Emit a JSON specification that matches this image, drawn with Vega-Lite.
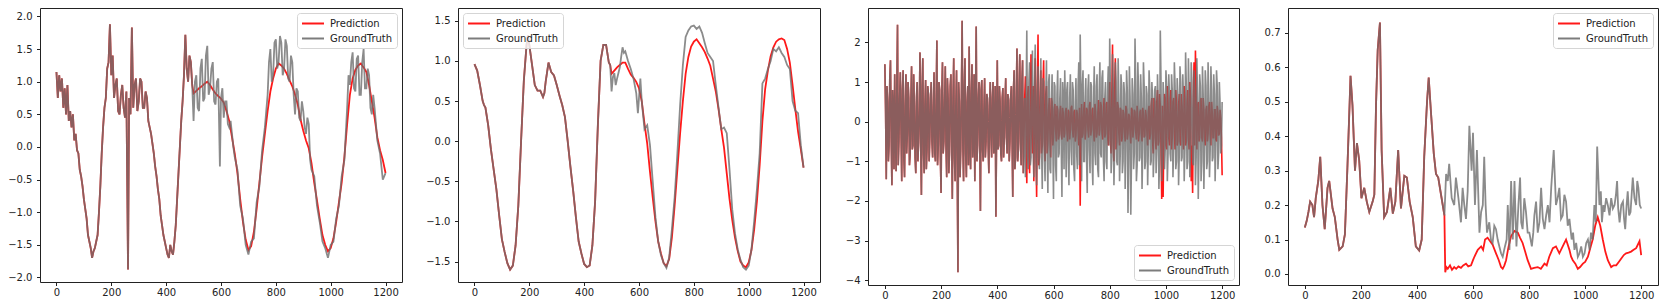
{
"$schema": "https://vega.github.io/schema/vega-lite/v6.json",
"padding": {"left": 0, "top": 7, "right": 0, "bottom": 0},
"spacing": 0,
"config": {
  "font": "DejaVu Sans",
  "view": {"stroke": "#222", "strokeWidth": 1},
  "axis": {"grid": false, "domain": false, "labelFont": "DejaVu Sans", "labelFontSize": 10, "labelColor": "#222", "tickColor": "#222", "tickSize": 3.5, "title": null, "labelFlush": false},
  "axisX": {"labelPadding": 2, "format": "d"},
  "axisY": {"labelPadding": 4.5},
  "legend": {"labelFont": "DejaVu Sans", "labelFontSize": 10, "labelColor": "#222", "symbolType": "M-1,0L3,0", "symbolSize": 121, "symbolStrokeWidth": 2, "symbolOpacity": 0.9, "labelOffset": 16, "rowPadding": 3, "padding": 4, "fillColor": "rgba(255,255,255,0.8)", "strokeColor": "#d5d5d5", "cornerRadius": 3, "offset": 5}
},
"resolve": {"scale": {"color": "independent", "x": "independent", "y": "independent"}, "legend": {"color": "independent"}},
"datasets": {"d": [
{"p":1,"s":"H","x":0,"y":1.15},{"p":1,"s":"H","x":5,"y":0.75},{"p":1,"s":"H","x":10,"y":1.1},{"p":1,"s":"H","x":15,"y":0.85},{"p":1,"s":"H","x":20,"y":1.05},{"p":1,"s":"H","x":25,"y":0.6},{"p":1,"s":"H","x":30,"y":0.9},{"p":1,"s":"H","x":35,"y":0.5},{"p":1,"s":"H","x":40,"y":0.95},{"p":1,"s":"H","x":45,"y":0.4},{"p":1,"s":"H","x":50,"y":0.55},{"p":1,"s":"H","x":55,"y":0.3},{"p":1,"s":"H","x":60,"y":0.5},{"p":1,"s":"H","x":65,"y":0.1},{"p":1,"s":"H","x":70,"y":0.2},{"p":1,"s":"H","x":75,"y":-0.05},{"p":1,"s":"H","x":80,"y":-0.1},{"p":1,"s":"H","x":85,"y":-0.35},{"p":1,"s":"H","x":90,"y":-0.45},{"p":1,"s":"H","x":95,"y":-0.6},{"p":1,"s":"H","x":100,"y":-0.8},{"p":1,"s":"H","x":105,"y":-0.95},{"p":1,"s":"H","x":110,"y":-1.1},{"p":1,"s":"H","x":115,"y":-1.35},{"p":1,"s":"H","x":120,"y":-1.45},{"p":1,"s":"H","x":125,"y":-1.55},{"p":1,"s":"H","x":130,"y":-1.7},{"p":1,"s":"H","x":135,"y":-1.6},{"p":1,"s":"H","x":140,"y":-1.55},{"p":1,"s":"H","x":145,"y":-1.45},{"p":1,"s":"H","x":150,"y":-1.35},{"p":1,"s":"H","x":155,"y":-1.0},{"p":1,"s":"H","x":160,"y":-0.6},{"p":1,"s":"H","x":165,"y":-0.1},{"p":1,"s":"H","x":170,"y":0.3},{"p":1,"s":"H","x":175,"y":0.6},{"p":1,"s":"H","x":180,"y":0.75},{"p":1,"s":"H","x":185,"y":1.2},{"p":1,"s":"H","x":190,"y":1.3},{"p":1,"s":"H","x":195,"y":1.88},{"p":1,"s":"H","x":200,"y":1.1},{"p":1,"s":"H","x":205,"y":1.4},{"p":1,"s":"H","x":210,"y":0.75},{"p":1,"s":"H","x":215,"y":0.95},{"p":1,"s":"H","x":220,"y":1.05},{"p":1,"s":"H","x":225,"y":0.55},{"p":1,"s":"H","x":230,"y":0.5},{"p":1,"s":"H","x":235,"y":0.8},{"p":1,"s":"H","x":240,"y":0.95},{"p":1,"s":"H","x":245,"y":0.6},{"p":1,"s":"H","x":250,"y":0.45},{"p":1,"s":"H","x":255,"y":0.85},{"p":1,"s":"H","x":261,"y":-1.88},{"p":1,"s":"H","x":265,"y":0.75},{"p":1,"s":"H","x":270,"y":0.5},{"p":1,"s":"H","x":275,"y":1.83},{"p":1,"s":"H","x":280,"y":0.6},{"p":1,"s":"H","x":285,"y":0.95},{"p":1,"s":"H","x":290,"y":1.05},{"p":1,"s":"H","x":295,"y":0.55},{"p":1,"s":"H","x":300,"y":0.7},{"p":1,"s":"H","x":305,"y":1.05},{"p":1,"s":"H","x":310,"y":1.0},{"p":1,"s":"H","x":315,"y":0.6},{"p":1,"s":"H","x":320,"y":0.6},{"p":1,"s":"H","x":325,"y":0.85},{"p":1,"s":"H","x":330,"y":0.75},{"p":1,"s":"H","x":335,"y":0.4},{"p":1,"s":"H","x":340,"y":0.3},{"p":1,"s":"H","x":345,"y":0.2},{"p":1,"s":"H","x":350,"y":0.05},{"p":1,"s":"H","x":355,"y":-0.1},{"p":1,"s":"H","x":360,"y":-0.3},{"p":1,"s":"H","x":365,"y":-0.45},{"p":1,"s":"H","x":370,"y":-0.65},{"p":1,"s":"H","x":375,"y":-0.8},{"p":1,"s":"H","x":380,"y":-1.05},{"p":1,"s":"H","x":385,"y":-1.2},{"p":1,"s":"H","x":390,"y":-1.35},{"p":1,"s":"H","x":395,"y":-1.45},{"p":1,"s":"H","x":400,"y":-1.55},{"p":1,"s":"H","x":405,"y":-1.65},{"p":1,"s":"H","x":410,"y":-1.7},{"p":1,"s":"H","x":415,"y":-1.5},{"p":1,"s":"H","x":420,"y":-1.6},{"p":1,"s":"H","x":425,"y":-1.65},{"p":1,"s":"H","x":430,"y":-1.45},{"p":1,"s":"H","x":435,"y":-1.2},{"p":1,"s":"H","x":440,"y":-0.8},{"p":1,"s":"H","x":445,"y":-0.4},{"p":1,"s":"H","x":450,"y":0.0},{"p":1,"s":"H","x":455,"y":0.4},{"p":1,"s":"H","x":460,"y":0.7},{"p":1,"s":"H","x":465,"y":1.1},{"p":1,"s":"H","x":470,"y":1.72},{"p":1,"s":"H","x":475,"y":1.2},{"p":1,"s":"H","x":480,"y":1.0},{"p":1,"s":"H","x":485,"y":1.4},{"p":1,"s":"H","x":490,"y":1.3},{"p":1,"s":"H","x":495,"y":0.95},
{"p":1,"s":"P","x":500,"y":0.82},{"p":1,"s":"P","x":510,"y":0.86},{"p":1,"s":"P","x":520,"y":0.9},{"p":1,"s":"P","x":530,"y":0.93},{"p":1,"s":"P","x":540,"y":0.97},{"p":1,"s":"P","x":550,"y":1.0},{"p":1,"s":"P","x":560,"y":0.95},{"p":1,"s":"P","x":570,"y":0.88},{"p":1,"s":"P","x":580,"y":0.82},{"p":1,"s":"P","x":590,"y":0.78},{"p":1,"s":"P","x":600,"y":0.74},{"p":1,"s":"P","x":610,"y":0.68},{"p":1,"s":"P","x":620,"y":0.55},{"p":1,"s":"P","x":630,"y":0.4},{"p":1,"s":"P","x":640,"y":0.15},{"p":1,"s":"P","x":650,"y":-0.1},{"p":1,"s":"P","x":660,"y":-0.4},{"p":1,"s":"P","x":670,"y":-0.8},{"p":1,"s":"P","x":680,"y":-1.15},{"p":1,"s":"P","x":690,"y":-1.42},{"p":1,"s":"P","x":700,"y":-1.58},{"p":1,"s":"P","x":710,"y":-1.52},{"p":1,"s":"P","x":720,"y":-1.3},{"p":1,"s":"P","x":730,"y":-0.95},{"p":1,"s":"P","x":740,"y":-0.55},{"p":1,"s":"P","x":750,"y":-0.15},{"p":1,"s":"P","x":760,"y":0.2},{"p":1,"s":"P","x":770,"y":0.55},{"p":1,"s":"P","x":780,"y":0.85},{"p":1,"s":"P","x":790,"y":1.05},{"p":1,"s":"P","x":800,"y":1.2},{"p":1,"s":"P","x":810,"y":1.28},{"p":1,"s":"P","x":820,"y":1.25},{"p":1,"s":"P","x":830,"y":1.2},{"p":1,"s":"P","x":840,"y":1.12},{"p":1,"s":"P","x":850,"y":1.02},{"p":1,"s":"P","x":860,"y":0.93},{"p":1,"s":"P","x":870,"y":0.8},{"p":1,"s":"P","x":880,"y":0.65},{"p":1,"s":"P","x":890,"y":0.42},{"p":1,"s":"P","x":900,"y":0.25},{"p":1,"s":"P","x":910,"y":0.1},{"p":1,"s":"P","x":920,"y":-0.02},{"p":1,"s":"P","x":930,"y":-0.25},{"p":1,"s":"P","x":940,"y":-0.55},{"p":1,"s":"P","x":950,"y":-0.82},{"p":1,"s":"P","x":960,"y":-1.1},{"p":1,"s":"P","x":970,"y":-1.35},{"p":1,"s":"P","x":980,"y":-1.5},{"p":1,"s":"P","x":990,"y":-1.6},{"p":1,"s":"P","x":1000,"y":-1.55},{"p":1,"s":"P","x":1010,"y":-1.4},{"p":1,"s":"P","x":1020,"y":-1.15},{"p":1,"s":"P","x":1030,"y":-0.85},{"p":1,"s":"P","x":1040,"y":-0.55},{"p":1,"s":"P","x":1050,"y":-0.15},{"p":1,"s":"P","x":1060,"y":0.35},{"p":1,"s":"P","x":1070,"y":0.8},{"p":1,"s":"P","x":1080,"y":1.05},{"p":1,"s":"P","x":1090,"y":1.18},{"p":1,"s":"P","x":1100,"y":1.25},{"p":1,"s":"P","x":1110,"y":1.28},{"p":1,"s":"P","x":1120,"y":1.22},{"p":1,"s":"P","x":1130,"y":1.15},{"p":1,"s":"P","x":1140,"y":0.95},{"p":1,"s":"P","x":1150,"y":0.7},{"p":1,"s":"P","x":1160,"y":0.45},{"p":1,"s":"P","x":1170,"y":0.15},{"p":1,"s":"P","x":1180,"y":-0.05},{"p":1,"s":"P","x":1190,"y":-0.2},{"p":1,"s":"P","x":1200,"y":-0.4},
{"p":1,"s":"G","x":500,"y":0.4},{"p":1,"s":"G","x":505,"y":1.0},{"p":1,"s":"G","x":510,"y":1.1},{"p":1,"s":"G","x":515,"y":0.6},{"p":1,"s":"G","x":520,"y":0.55},{"p":1,"s":"G","x":525,"y":1.2},{"p":1,"s":"G","x":530,"y":1.35},{"p":1,"s":"G","x":535,"y":0.7},{"p":1,"s":"G","x":540,"y":0.75},{"p":1,"s":"G","x":545,"y":1.4},{"p":1,"s":"G","x":550,"y":1.55},{"p":1,"s":"G","x":555,"y":0.8},{"p":1,"s":"G","x":560,"y":0.9},{"p":1,"s":"G","x":565,"y":1.2},{"p":1,"s":"G","x":570,"y":1.3},{"p":1,"s":"G","x":575,"y":0.7},{"p":1,"s":"G","x":580,"y":0.65},{"p":1,"s":"G","x":585,"y":1.0},{"p":1,"s":"G","x":590,"y":1.05},{"p":1,"s":"G","x":596,"y":-0.3},{"p":1,"s":"G","x":600,"y":0.75},{"p":1,"s":"G","x":605,"y":0.9},{"p":1,"s":"G","x":610,"y":0.45},{"p":1,"s":"G","x":615,"y":0.7},{"p":1,"s":"G","x":620,"y":0.7},{"p":1,"s":"G","x":625,"y":0.35},{"p":1,"s":"G","x":630,"y":0.3},{"p":1,"s":"G","x":635,"y":0.4},{"p":1,"s":"G","x":640,"y":0.2},{"p":1,"s":"G","x":645,"y":0.0},{"p":1,"s":"G","x":650,"y":-0.15},{"p":1,"s":"G","x":660,"y":-0.35},{"p":1,"s":"G","x":670,"y":-0.9},{"p":1,"s":"G","x":680,"y":-1.1},{"p":1,"s":"G","x":690,"y":-1.5},{"p":1,"s":"G","x":700,"y":-1.65},{"p":1,"s":"G","x":710,"y":-1.45},{"p":1,"s":"G","x":720,"y":-1.4},{"p":1,"s":"G","x":730,"y":-0.85},{"p":1,"s":"G","x":740,"y":-0.6},{"p":1,"s":"G","x":750,"y":-0.05},{"p":1,"s":"G","x":760,"y":0.3},{"p":1,"s":"G","x":770,"y":0.8},{"p":1,"s":"G","x":775,"y":1.3},{"p":1,"s":"G","x":780,"y":1.5},{"p":1,"s":"G","x":785,"y":1.0},{"p":1,"s":"G","x":790,"y":1.1},{"p":1,"s":"G","x":795,"y":1.6},{"p":1,"s":"G","x":800,"y":1.65},{"p":1,"s":"G","x":805,"y":1.2},{"p":1,"s":"G","x":810,"y":1.3},{"p":1,"s":"G","x":815,"y":1.7},{"p":1,"s":"G","x":820,"y":1.6},{"p":1,"s":"G","x":825,"y":1.1},{"p":1,"s":"G","x":830,"y":1.2},{"p":1,"s":"G","x":835,"y":1.65},{"p":1,"s":"G","x":840,"y":1.55},{"p":1,"s":"G","x":845,"y":1.05},{"p":1,"s":"G","x":850,"y":1.0},{"p":1,"s":"G","x":855,"y":1.4},{"p":1,"s":"G","x":860,"y":1.3},{"p":1,"s":"G","x":865,"y":0.8},{"p":1,"s":"G","x":870,"y":0.5},{"p":1,"s":"G","x":875,"y":0.9},{"p":1,"s":"G","x":880,"y":0.85},{"p":1,"s":"G","x":885,"y":0.45},{"p":1,"s":"G","x":890,"y":0.4},{"p":1,"s":"G","x":895,"y":0.7},{"p":1,"s":"G","x":900,"y":0.55},{"p":1,"s":"G","x":905,"y":0.3},{"p":1,"s":"G","x":910,"y":0.2},{"p":1,"s":"G","x":915,"y":0.45},{"p":1,"s":"G","x":920,"y":0.35},{"p":1,"s":"G","x":925,"y":-0.2},{"p":1,"s":"G","x":930,"y":-0.35},{"p":1,"s":"G","x":940,"y":-0.45},{"p":1,"s":"G","x":950,"y":-0.9},{"p":1,"s":"G","x":960,"y":-1.15},{"p":1,"s":"G","x":970,"y":-1.45},{"p":1,"s":"G","x":980,"y":-1.55},{"p":1,"s":"G","x":990,"y":-1.7},{"p":1,"s":"G","x":1000,"y":-1.5},{"p":1,"s":"G","x":1010,"y":-1.45},{"p":1,"s":"G","x":1020,"y":-1.1},{"p":1,"s":"G","x":1030,"y":-0.9},{"p":1,"s":"G","x":1040,"y":-0.45},{"p":1,"s":"G","x":1050,"y":-0.2},{"p":1,"s":"G","x":1060,"y":0.6},{"p":1,"s":"G","x":1065,"y":1.1},{"p":1,"s":"G","x":1070,"y":0.95},{"p":1,"s":"G","x":1075,"y":1.3},{"p":1,"s":"G","x":1080,"y":1.45},{"p":1,"s":"G","x":1085,"y":0.9},{"p":1,"s":"G","x":1090,"y":0.85},{"p":1,"s":"G","x":1095,"y":1.35},{"p":1,"s":"G","x":1100,"y":1.4},{"p":1,"s":"G","x":1105,"y":0.8},{"p":1,"s":"G","x":1110,"y":0.8},{"p":1,"s":"G","x":1115,"y":1.3},{"p":1,"s":"G","x":1120,"y":1.5},{"p":1,"s":"G","x":1125,"y":0.9},{"p":1,"s":"G","x":1130,"y":0.9},{"p":1,"s":"G","x":1135,"y":1.2},{"p":1,"s":"G","x":1140,"y":1.1},{"p":1,"s":"G","x":1145,"y":0.6},{"p":1,"s":"G","x":1150,"y":0.5},{"p":1,"s":"G","x":1155,"y":0.8},{"p":1,"s":"G","x":1160,"y":0.6},{"p":1,"s":"G","x":1170,"y":0.1},{"p":1,"s":"G","x":1180,"y":-0.1},{"p":1,"s":"G","x":1190,"y":-0.5},{"p":1,"s":"G","x":1200,"y":-0.4},
{"p":2,"s":"H","x":0,"y":0.96},{"p":2,"s":"H","x":10,"y":0.88},{"p":2,"s":"H","x":20,"y":0.7},{"p":2,"s":"H","x":30,"y":0.5},{"p":2,"s":"H","x":35,"y":0.45},{"p":2,"s":"H","x":40,"y":0.42},{"p":2,"s":"H","x":50,"y":0.2},{"p":2,"s":"H","x":60,"y":-0.1},{"p":2,"s":"H","x":70,"y":-0.35},{"p":2,"s":"H","x":80,"y":-0.6},{"p":2,"s":"H","x":90,"y":-0.92},{"p":2,"s":"H","x":100,"y":-1.22},{"p":2,"s":"H","x":110,"y":-1.38},{"p":2,"s":"H","x":120,"y":-1.52},{"p":2,"s":"H","x":130,"y":-1.6},{"p":2,"s":"H","x":140,"y":-1.55},{"p":2,"s":"H","x":150,"y":-1.3},{"p":2,"s":"H","x":160,"y":-0.8},{"p":2,"s":"H","x":170,"y":0.0},{"p":2,"s":"H","x":180,"y":0.75},{"p":2,"s":"H","x":190,"y":1.2},{"p":2,"s":"H","x":195,"y":1.32},{"p":2,"s":"H","x":200,"y":1.2},{"p":2,"s":"H","x":210,"y":0.95},{"p":2,"s":"H","x":220,"y":0.7},{"p":2,"s":"H","x":230,"y":0.63},{"p":2,"s":"H","x":240,"y":0.63},{"p":2,"s":"H","x":250,"y":0.55},{"p":2,"s":"H","x":255,"y":0.6},{"p":2,"s":"H","x":260,"y":0.75},{"p":2,"s":"H","x":270,"y":0.98},{"p":2,"s":"H","x":280,"y":0.86},{"p":2,"s":"H","x":290,"y":0.82},{"p":2,"s":"H","x":300,"y":0.7},{"p":2,"s":"H","x":310,"y":0.57},{"p":2,"s":"H","x":320,"y":0.45},{"p":2,"s":"H","x":330,"y":0.3},{"p":2,"s":"H","x":340,"y":0.0},{"p":2,"s":"H","x":350,"y":-0.32},{"p":2,"s":"H","x":360,"y":-0.62},{"p":2,"s":"H","x":370,"y":-0.95},{"p":2,"s":"H","x":380,"y":-1.25},{"p":2,"s":"H","x":390,"y":-1.4},{"p":2,"s":"H","x":400,"y":-1.53},{"p":2,"s":"H","x":410,"y":-1.57},{"p":2,"s":"H","x":420,"y":-1.55},{"p":2,"s":"H","x":430,"y":-1.3},{"p":2,"s":"H","x":440,"y":-0.75},{"p":2,"s":"H","x":450,"y":0.2},{"p":2,"s":"H","x":460,"y":1.0},{"p":2,"s":"H","x":470,"y":1.2},{"p":2,"s":"H","x":480,"y":1.2},{"p":2,"s":"H","x":490,"y":0.98},{"p":2,"s":"H","x":495,"y":0.95},
{"p":2,"s":"P","x":500,"y":0.84},{"p":2,"s":"P","x":510,"y":0.88},{"p":2,"s":"P","x":520,"y":0.92},{"p":2,"s":"P","x":530,"y":0.95},{"p":2,"s":"P","x":540,"y":0.98},{"p":2,"s":"P","x":550,"y":0.98},{"p":2,"s":"P","x":560,"y":0.9},{"p":2,"s":"P","x":570,"y":0.83},{"p":2,"s":"P","x":580,"y":0.79},{"p":2,"s":"P","x":590,"y":0.74},{"p":2,"s":"P","x":600,"y":0.66},{"p":2,"s":"P","x":610,"y":0.5},{"p":2,"s":"P","x":620,"y":0.22},{"p":2,"s":"P","x":630,"y":-0.03},{"p":2,"s":"P","x":640,"y":-0.38},{"p":2,"s":"P","x":650,"y":-0.7},{"p":2,"s":"P","x":660,"y":-1.0},{"p":2,"s":"P","x":670,"y":-1.25},{"p":2,"s":"P","x":680,"y":-1.4},{"p":2,"s":"P","x":690,"y":-1.52},{"p":2,"s":"P","x":700,"y":-1.56},{"p":2,"s":"P","x":710,"y":-1.47},{"p":2,"s":"P","x":720,"y":-1.2},{"p":2,"s":"P","x":730,"y":-0.8},{"p":2,"s":"P","x":740,"y":-0.35},{"p":2,"s":"P","x":750,"y":0.1},{"p":2,"s":"P","x":760,"y":0.5},{"p":2,"s":"P","x":770,"y":0.84},{"p":2,"s":"P","x":780,"y":1.05},{"p":2,"s":"P","x":790,"y":1.18},{"p":2,"s":"P","x":800,"y":1.24},{"p":2,"s":"P","x":810,"y":1.27},{"p":2,"s":"P","x":820,"y":1.22},{"p":2,"s":"P","x":830,"y":1.17},{"p":2,"s":"P","x":840,"y":1.11},{"p":2,"s":"P","x":850,"y":1.03},{"p":2,"s":"P","x":860,"y":0.94},{"p":2,"s":"P","x":870,"y":0.78},{"p":2,"s":"P","x":880,"y":0.62},{"p":2,"s":"P","x":890,"y":0.4},{"p":2,"s":"P","x":900,"y":0.15},{"p":2,"s":"P","x":910,"y":-0.08},{"p":2,"s":"P","x":920,"y":-0.4},{"p":2,"s":"P","x":930,"y":-0.72},{"p":2,"s":"P","x":940,"y":-0.98},{"p":2,"s":"P","x":950,"y":-1.2},{"p":2,"s":"P","x":960,"y":-1.37},{"p":2,"s":"P","x":970,"y":-1.5},{"p":2,"s":"P","x":980,"y":-1.55},{"p":2,"s":"P","x":990,"y":-1.57},{"p":2,"s":"P","x":1000,"y":-1.51},{"p":2,"s":"P","x":1010,"y":-1.36},{"p":2,"s":"P","x":1020,"y":-1.1},{"p":2,"s":"P","x":1030,"y":-0.75},{"p":2,"s":"P","x":1040,"y":-0.3},{"p":2,"s":"P","x":1050,"y":0.25},{"p":2,"s":"P","x":1060,"y":0.65},{"p":2,"s":"P","x":1070,"y":0.88},{"p":2,"s":"P","x":1080,"y":1.06},{"p":2,"s":"P","x":1090,"y":1.17},{"p":2,"s":"P","x":1100,"y":1.24},{"p":2,"s":"P","x":1110,"y":1.27},{"p":2,"s":"P","x":1120,"y":1.28},{"p":2,"s":"P","x":1130,"y":1.26},{"p":2,"s":"P","x":1140,"y":1.15},{"p":2,"s":"P","x":1150,"y":0.98},{"p":2,"s":"P","x":1160,"y":0.7},{"p":2,"s":"P","x":1170,"y":0.4},{"p":2,"s":"P","x":1180,"y":0.12},{"p":2,"s":"P","x":1190,"y":-0.1},{"p":2,"s":"P","x":1200,"y":-0.33},
{"p":2,"s":"G","x":500,"y":0.62},{"p":2,"s":"G","x":505,"y":0.8},{"p":2,"s":"G","x":510,"y":0.85},{"p":2,"s":"G","x":515,"y":0.7},{"p":2,"s":"G","x":520,"y":0.78},{"p":2,"s":"G","x":525,"y":0.85},{"p":2,"s":"G","x":530,"y":0.92},{"p":2,"s":"G","x":535,"y":1.05},{"p":2,"s":"G","x":540,"y":1.17},{"p":2,"s":"G","x":545,"y":1.1},{"p":2,"s":"G","x":550,"y":1.12},{"p":2,"s":"G","x":560,"y":1.0},{"p":2,"s":"G","x":570,"y":0.9},{"p":2,"s":"G","x":580,"y":0.78},{"p":2,"s":"G","x":590,"y":0.6},{"p":2,"s":"G","x":596,"y":0.35},{"p":2,"s":"G","x":605,"y":0.78},{"p":2,"s":"G","x":610,"y":0.5},{"p":2,"s":"G","x":620,"y":0.15},{"p":2,"s":"G","x":630,"y":0.2},{"p":2,"s":"G","x":640,"y":-0.05},{"p":2,"s":"G","x":650,"y":-0.5},{"p":2,"s":"G","x":660,"y":-0.95},{"p":2,"s":"G","x":670,"y":-1.25},{"p":2,"s":"G","x":680,"y":-1.42},{"p":2,"s":"G","x":690,"y":-1.52},{"p":2,"s":"G","x":700,"y":-1.58},{"p":2,"s":"G","x":710,"y":-1.45},{"p":2,"s":"G","x":720,"y":-1.1},{"p":2,"s":"G","x":730,"y":-0.7},{"p":2,"s":"G","x":740,"y":-0.15},{"p":2,"s":"G","x":750,"y":0.45},{"p":2,"s":"G","x":760,"y":0.95},{"p":2,"s":"G","x":770,"y":1.3},{"p":2,"s":"G","x":780,"y":1.38},{"p":2,"s":"G","x":790,"y":1.43},{"p":2,"s":"G","x":800,"y":1.44},{"p":2,"s":"G","x":810,"y":1.4},{"p":2,"s":"G","x":820,"y":1.43},{"p":2,"s":"G","x":830,"y":1.35},{"p":2,"s":"G","x":840,"y":1.22},{"p":2,"s":"G","x":850,"y":1.1},{"p":2,"s":"G","x":860,"y":1.05},{"p":2,"s":"G","x":870,"y":1.0},{"p":2,"s":"G","x":880,"y":0.7},{"p":2,"s":"G","x":890,"y":0.42},{"p":2,"s":"G","x":900,"y":0.15},{"p":2,"s":"G","x":910,"y":0.17},{"p":2,"s":"G","x":920,"y":0.1},{"p":2,"s":"G","x":930,"y":-0.35},{"p":2,"s":"G","x":940,"y":-0.85},{"p":2,"s":"G","x":950,"y":-1.15},{"p":2,"s":"G","x":960,"y":-1.35},{"p":2,"s":"G","x":970,"y":-1.48},{"p":2,"s":"G","x":980,"y":-1.57},{"p":2,"s":"G","x":990,"y":-1.6},{"p":2,"s":"G","x":1000,"y":-1.55},{"p":2,"s":"G","x":1010,"y":-1.35},{"p":2,"s":"G","x":1020,"y":-1.0},{"p":2,"s":"G","x":1030,"y":-0.6},{"p":2,"s":"G","x":1040,"y":-0.15},{"p":2,"s":"G","x":1050,"y":0.72},{"p":2,"s":"G","x":1060,"y":0.78},{"p":2,"s":"G","x":1070,"y":0.9},{"p":2,"s":"G","x":1080,"y":1.0},{"p":2,"s":"G","x":1090,"y":1.15},{"p":2,"s":"G","x":1100,"y":1.12},{"p":2,"s":"G","x":1110,"y":1.17},{"p":2,"s":"G","x":1120,"y":1.1},{"p":2,"s":"G","x":1130,"y":1.05},{"p":2,"s":"G","x":1140,"y":0.95},{"p":2,"s":"G","x":1150,"y":0.9},{"p":2,"s":"G","x":1160,"y":0.5},{"p":2,"s":"G","x":1170,"y":0.38},{"p":2,"s":"G","x":1180,"y":0.35},{"p":2,"s":"G","x":1190,"y":-0.05},{"p":2,"s":"G","x":1200,"y":-0.33},
{"p":3,"s":"H","x":0,"y":1.45},{"p":3,"s":"H","x":2.5,"y":0.3},{"p":3,"s":"H","x":5,"y":-1.45},{"p":3,"s":"H","x":7.5,"y":0.9},{"p":3,"s":"H","x":10,"y":0.5},{"p":3,"s":"H","x":12.5,"y":-1.0},{"p":3,"s":"H","x":15,"y":-0.6},{"p":3,"s":"H","x":17.5,"y":1.1},{"p":3,"s":"H","x":20,"y":1.55},{"p":3,"s":"H","x":22.5,"y":-0.4},{"p":3,"s":"H","x":25,"y":-1.6},{"p":3,"s":"H","x":27.5,"y":0.8},{"p":3,"s":"H","x":30,"y":0.3},{"p":3,"s":"H","x":32.5,"y":-1.2},{"p":3,"s":"H","x":35,"y":1.2},{"p":3,"s":"H","x":37.5,"y":-0.3},{"p":3,"s":"H","x":40,"y":-1.25},{"p":3,"s":"H","x":42.5,"y":0.9},{"p":3,"s":"H","x":45,"y":2.45},{"p":3,"s":"H","x":47.5,"y":-1.1},{"p":3,"s":"H","x":50,"y":-0.5},{"p":3,"s":"H","x":52.5,"y":0.6},{"p":3,"s":"H","x":55,"y":1.25},{"p":3,"s":"H","x":57.5,"y":-0.2},{"p":3,"s":"H","x":60,"y":-1.5},{"p":3,"s":"H","x":62.5,"y":0.8},{"p":3,"s":"H","x":65,"y":1.3},{"p":3,"s":"H","x":67.5,"y":-0.9},{"p":3,"s":"H","x":70,"y":-1.4},{"p":3,"s":"H","x":72.5,"y":0.4},{"p":3,"s":"H","x":75,"y":1.2},{"p":3,"s":"H","x":77.5,"y":-0.8},{"p":3,"s":"H","x":80,"y":-0.3},{"p":3,"s":"H","x":82.5,"y":1.0},{"p":3,"s":"H","x":85,"y":0.6},{"p":3,"s":"H","x":87.5,"y":-1.1},{"p":3,"s":"H","x":90,"y":-0.8},{"p":3,"s":"H","x":92.5,"y":0.5},{"p":3,"s":"H","x":95,"y":1.4},{"p":3,"s":"H","x":97.5,"y":-0.7},{"p":3,"s":"H","x":100,"y":-0.6},{"p":3,"s":"H","x":102.5,"y":1.2},{"p":3,"s":"H","x":105,"y":0.4},{"p":3,"s":"H","x":107.5,"y":-0.9},{"p":3,"s":"H","x":110,"y":-1.3},{"p":3,"s":"H","x":112.5,"y":0.6},{"p":3,"s":"H","x":115,"y":1.0},{"p":3,"s":"H","x":117.5,"y":-1.0},{"p":3,"s":"H","x":120,"y":-0.5},{"p":3,"s":"H","x":122.5,"y":0.3},{"p":3,"s":"H","x":125,"y":1.75},{"p":3,"s":"H","x":127.5,"y":-0.6},{"p":3,"s":"H","x":130,"y":-1.85},{"p":3,"s":"H","x":132.5,"y":0.9},{"p":3,"s":"H","x":135,"y":1.6},{"p":3,"s":"H","x":137.5,"y":-0.8},{"p":3,"s":"H","x":140,"y":-1.3},{"p":3,"s":"H","x":142.5,"y":0.4},{"p":3,"s":"H","x":145,"y":1.05},{"p":3,"s":"H","x":147.5,"y":-1.2},{"p":3,"s":"H","x":150,"y":-0.7},{"p":3,"s":"H","x":152.5,"y":0.9},{"p":3,"s":"H","x":155,"y":0.7},{"p":3,"s":"H","x":157.5,"y":-1.0},{"p":3,"s":"H","x":160,"y":-0.4},{"p":3,"s":"H","x":162.5,"y":0.6},{"p":3,"s":"H","x":165,"y":1.0},{"p":3,"s":"H","x":167.5,"y":-0.5},{"p":3,"s":"H","x":170,"y":-0.9},{"p":3,"s":"H","x":172.5,"y":0.3},{"p":3,"s":"H","x":175,"y":1.25},{"p":3,"s":"H","x":177.5,"y":-0.8},{"p":3,"s":"H","x":180,"y":-1.0},{"p":3,"s":"H","x":182.5,"y":0.5},{"p":3,"s":"H","x":185,"y":2.05},{"p":3,"s":"H","x":187.5,"y":-1.1},{"p":3,"s":"H","x":190,"y":-0.6},{"p":3,"s":"H","x":192.5,"y":1.0},{"p":3,"s":"H","x":195,"y":0.8},{"p":3,"s":"H","x":197.5,"y":-0.9},{"p":3,"s":"H","x":200,"y":-1.8},{"p":3,"s":"H","x":202.5,"y":0.7},{"p":3,"s":"H","x":205,"y":1.5},{"p":3,"s":"H","x":207.5,"y":-0.8},{"p":3,"s":"H","x":210,"y":-0.5},{"p":3,"s":"H","x":212.5,"y":0.5},{"p":3,"s":"H","x":215,"y":1.4},{"p":3,"s":"H","x":217.5,"y":-0.6},{"p":3,"s":"H","x":220,"y":-1.4},{"p":3,"s":"H","x":222.5,"y":1.1},{"p":3,"s":"H","x":225,"y":0.6},{"p":3,"s":"H","x":227.5,"y":-1.3},{"p":3,"s":"H","x":230,"y":-0.8},{"p":3,"s":"H","x":232.5,"y":0.9},{"p":3,"s":"H","x":235,"y":1.2},{"p":3,"s":"H","x":237.5,"y":-0.4},{"p":3,"s":"H","x":240,"y":-1.95},{"p":3,"s":"H","x":242.5,"y":0.6},{"p":3,"s":"H","x":245,"y":1.6},{"p":3,"s":"H","x":247.5,"y":-0.9},{"p":3,"s":"H","x":250,"y":-1.5},{"p":3,"s":"H","x":252.5,"y":0.4},{"p":3,"s":"H","x":255,"y":1.3},{"p":3,"s":"H","x":257.5,"y":-1.2},{"p":3,"s":"H","x":260,"y":-3.8},{"p":3,"s":"H","x":262.5,"y":1.0},{"p":3,"s":"H","x":265,"y":0.5},{"p":3,"s":"H","x":267.5,"y":-1.4},{"p":3,"s":"H","x":270,"y":-0.7},{"p":3,"s":"H","x":272.5,"y":0.8},{"p":3,"s":"H","x":275,"y":2.55},{"p":3,"s":"H","x":277.5,"y":-0.6},{"p":3,"s":"H","x":280,"y":-1.5},{"p":3,"s":"H","x":282.5,"y":0.9},{"p":3,"s":"H","x":285,"y":1.6},{"p":3,"s":"H","x":287.5,"y":-0.8},{"p":3,"s":"H","x":290,"y":-1.4},{"p":3,"s":"H","x":292.5,"y":0.5},{"p":3,"s":"H","x":295,"y":0.9},{"p":3,"s":"H","x":297.5,"y":-1.1},{"p":3,"s":"H","x":300,"y":1.9},{"p":3,"s":"H","x":302.5,"y":-0.5},{"p":3,"s":"H","x":305,"y":-1.2},{"p":3,"s":"H","x":307.5,"y":0.7},{"p":3,"s":"H","x":310,"y":1.45},{"p":3,"s":"H","x":312.5,"y":-0.9},{"p":3,"s":"H","x":315,"y":-0.4},{"p":3,"s":"H","x":317.5,"y":1.2},{"p":3,"s":"H","x":320,"y":-1.5},{"p":3,"s":"H","x":322.5,"y":0.4},{"p":3,"s":"H","x":325,"y":2.4},{"p":3,"s":"H","x":327.5,"y":-1.0},{"p":3,"s":"H","x":330,"y":-0.6},{"p":3,"s":"H","x":332.5,"y":0.6},{"p":3,"s":"H","x":335,"y":1.0},{"p":3,"s":"H","x":337.5,"y":-0.5},{"p":3,"s":"H","x":340,"y":-2.25},{"p":3,"s":"H","x":342.5,"y":0.8},{"p":3,"s":"H","x":345,"y":1.05},{"p":3,"s":"H","x":347.5,"y":-0.7},{"p":3,"s":"H","x":350,"y":-1.0},{"p":3,"s":"H","x":352.5,"y":0.3},{"p":3,"s":"H","x":355,"y":1.1},{"p":3,"s":"H","x":357.5,"y":-0.9},{"p":3,"s":"H","x":360,"y":-0.5},{"p":3,"s":"H","x":362.5,"y":0.7},{"p":3,"s":"H","x":365,"y":0.6},{"p":3,"s":"H","x":367.5,"y":-0.6},{"p":3,"s":"H","x":370,"y":-1.3},{"p":3,"s":"H","x":372.5,"y":0.4},{"p":3,"s":"H","x":375,"y":1.0},{"p":3,"s":"H","x":377.5,"y":-0.4},{"p":3,"s":"H","x":380,"y":-0.9},{"p":3,"s":"H","x":382.5,"y":0.6},{"p":3,"s":"H","x":385,"y":1.0},{"p":3,"s":"H","x":387.5,"y":-0.8},{"p":3,"s":"H","x":390,"y":-0.3},{"p":3,"s":"H","x":392.5,"y":0.9},{"p":3,"s":"H","x":395,"y":-2.4},{"p":3,"s":"H","x":397.5,"y":-0.3},{"p":3,"s":"H","x":400,"y":1.55},{"p":3,"s":"H","x":402.5,"y":-0.7},{"p":3,"s":"H","x":405,"y":-0.6},{"p":3,"s":"H","x":407.5,"y":0.9},{"p":3,"s":"H","x":410,"y":0.5},{"p":3,"s":"H","x":412.5,"y":-0.8},{"p":3,"s":"H","x":415,"y":-1.0},{"p":3,"s":"H","x":417.5,"y":0.6},{"p":3,"s":"H","x":420,"y":0.85},{"p":3,"s":"H","x":422.5,"y":-0.9},{"p":3,"s":"H","x":425,"y":-0.4},{"p":3,"s":"H","x":427.5,"y":0.5},{"p":3,"s":"H","x":430,"y":1.1},{"p":3,"s":"H","x":432.5,"y":-0.4},{"p":3,"s":"H","x":435,"y":-0.8},{"p":3,"s":"H","x":437.5,"y":0.7},{"p":3,"s":"H","x":440,"y":0.55},{"p":3,"s":"H","x":442.5,"y":-1.0},{"p":3,"s":"H","x":445,"y":-0.5},{"p":3,"s":"H","x":447.5,"y":0.6},{"p":3,"s":"H","x":450,"y":0.9},{"p":3,"s":"H","x":452.5,"y":-0.3},{"p":3,"s":"H","x":455,"y":-1.9},{"p":3,"s":"H","x":457.5,"y":0.8},{"p":3,"s":"H","x":460,"y":1.3},{"p":3,"s":"H","x":462.5,"y":-1.2},{"p":3,"s":"H","x":465,"y":-0.9},{"p":3,"s":"H","x":467.5,"y":0.6},{"p":3,"s":"H","x":470,"y":1.85},{"p":3,"s":"H","x":472.5,"y":-1.0},{"p":3,"s":"H","x":475,"y":-0.7},{"p":3,"s":"H","x":477.5,"y":0.9},{"p":3,"s":"H","x":480,"y":1.7},{"p":3,"s":"H","x":482.5,"y":-0.5},{"p":3,"s":"H","x":485,"y":-1.1},{"p":3,"s":"H","x":487.5,"y":1.0},{"p":3,"s":"H","x":490,"y":1.55},{"p":3,"s":"H","x":492.5,"y":-1.3},{"p":3,"s":"H","x":495,"y":-0.4},{"p":3,"s":"H","x":497.5,"y":0.6},
{"p":3,"s":"P","x":500,"y":1.15},{"p":3,"s":"P","x":502.5,"y":-0.4},{"p":3,"s":"P","x":505,"y":-1.55},{"p":3,"s":"P","x":507.5,"y":0.6},{"p":3,"s":"P","x":510,"y":0.9},{"p":3,"s":"P","x":512.5,"y":-0.9},{"p":3,"s":"P","x":515,"y":-1.3},{"p":3,"s":"P","x":517.5,"y":0.5},{"p":3,"s":"P","x":520,"y":1.7},{"p":3,"s":"P","x":522.5,"y":-0.3},{"p":3,"s":"P","x":525,"y":-0.8},{"p":3,"s":"P","x":527.5,"y":0.9},{"p":3,"s":"P","x":530,"y":-1.5},{"p":3,"s":"P","x":532.5,"y":0.4},{"p":3,"s":"P","x":535,"y":1.6},{"p":3,"s":"P","x":537.5,"y":-0.7},{"p":3,"s":"P","x":540,"y":-1.9},{"p":3,"s":"P","x":542.5,"y":0.8},{"p":3,"s":"P","x":545,"y":2.2},{"p":3,"s":"P","x":547.5,"y":-1.1},{"p":3,"s":"P","x":550,"y":-0.9},{"p":3,"s":"P","x":552.5,"y":0.6},{"p":3,"s":"P","x":555,"y":1.3},{"p":3,"s":"P","x":557.5,"y":-0.8},{"p":3,"s":"P","x":560,"y":-0.6},{"p":3,"s":"P","x":562.5,"y":0.9},{"p":3,"s":"P","x":565,"y":1.55},{"p":3,"s":"P","x":567.5,"y":-0.5},{"p":3,"s":"P","x":570,"y":-1.0},{"p":3,"s":"P","x":572.5,"y":0.7},{"p":3,"s":"P","x":575,"y":0.9},{"p":3,"s":"P","x":577.5,"y":-0.8},{"p":3,"s":"P","x":580,"y":-0.5},{"p":3,"s":"P","x":582.5,"y":0.3},{"p":3,"s":"P","x":585,"y":0.6},{"p":3,"s":"P","x":587.5,"y":-0.4},{"p":3,"s":"P","x":590,"y":-0.9},{"p":3,"s":"P","x":592.5,"y":0.6},{"p":3,"s":"P","x":595,"y":0.5},{"p":3,"s":"P","x":597.5,"y":-0.6},{"p":3,"s":"P","x":600,"y":-0.4},{"p":3,"s":"P","x":602.5,"y":0.3},{"p":3,"s":"P","x":605,"y":0.45},{"p":3,"s":"P","x":607.5,"y":-0.2},{"p":3,"s":"P","x":610,"y":-0.5},{"p":3,"s":"P","x":612.5,"y":0.4},{"p":3,"s":"P","x":615,"y":0.3},{"p":3,"s":"P","x":617.5,"y":-0.45},{"p":3,"s":"P","x":620,"y":-0.35},{"p":3,"s":"P","x":622.5,"y":0.2},{"p":3,"s":"P","x":625,"y":0.4},{"p":3,"s":"P","x":627.5,"y":-0.3},{"p":3,"s":"P","x":630,"y":-0.45},{"p":3,"s":"P","x":632.5,"y":0.35},{"p":3,"s":"P","x":635,"y":0.2},{"p":3,"s":"P","x":637.5,"y":-0.4},{"p":3,"s":"P","x":640,"y":-0.3},{"p":3,"s":"P","x":642.5,"y":0.25},{"p":3,"s":"P","x":645,"y":0.35},{"p":3,"s":"P","x":647.5,"y":-0.2},{"p":3,"s":"P","x":650,"y":-0.5},{"p":3,"s":"P","x":652.5,"y":0.3},{"p":3,"s":"P","x":655,"y":0.25},{"p":3,"s":"P","x":657.5,"y":-0.45},{"p":3,"s":"P","x":660,"y":-0.2},{"p":3,"s":"P","x":662.5,"y":0.35},{"p":3,"s":"P","x":665,"y":0.4},{"p":3,"s":"P","x":667.5,"y":-0.2},{"p":3,"s":"P","x":670,"y":-0.4},{"p":3,"s":"P","x":672.5,"y":0.25},{"p":3,"s":"P","x":675,"y":0.3},{"p":3,"s":"P","x":677.5,"y":-0.5},{"p":3,"s":"P","x":680,"y":-0.35},{"p":3,"s":"P","x":682.5,"y":0.3},{"p":3,"s":"P","x":685,"y":0.2},{"p":3,"s":"P","x":687.5,"y":-0.25},{"p":3,"s":"P","x":690,"y":-0.6},{"p":3,"s":"P","x":692.5,"y":0.35},{"p":3,"s":"P","x":695,"y":-2.12},{"p":3,"s":"P","x":697.5,"y":-0.3},{"p":3,"s":"P","x":700,"y":0.45},{"p":3,"s":"P","x":702.5,"y":-0.4},{"p":3,"s":"P","x":705,"y":-0.3},{"p":3,"s":"P","x":707.5,"y":0.3},{"p":3,"s":"P","x":710,"y":0.5},{"p":3,"s":"P","x":712.5,"y":-0.45},{"p":3,"s":"P","x":715,"y":-0.25},{"p":3,"s":"P","x":717.5,"y":0.35},{"p":3,"s":"P","x":720,"y":0.3},{"p":3,"s":"P","x":722.5,"y":-0.2},{"p":3,"s":"P","x":725,"y":-0.4},{"p":3,"s":"P","x":727.5,"y":0.4},{"p":3,"s":"P","x":730,"y":0.5},{"p":3,"s":"P","x":732.5,"y":-0.35},{"p":3,"s":"P","x":735,"y":-0.2},{"p":3,"s":"P","x":737.5,"y":0.3},{"p":3,"s":"P","x":740,"y":0.35},{"p":3,"s":"P","x":742.5,"y":-0.25},{"p":3,"s":"P","x":745,"y":-0.5},{"p":3,"s":"P","x":747.5,"y":0.45},{"p":3,"s":"P","x":750,"y":0.25},{"p":3,"s":"P","x":752.5,"y":-0.4},{"p":3,"s":"P","x":755,"y":-0.3},{"p":3,"s":"P","x":757.5,"y":0.2},{"p":3,"s":"P","x":760,"y":0.55},{"p":3,"s":"P","x":762.5,"y":-0.35},{"p":3,"s":"P","x":765,"y":-0.2},{"p":3,"s":"P","x":767.5,"y":0.5},{"p":3,"s":"P","x":770,"y":0.4},{"p":3,"s":"P","x":772.5,"y":-0.3},{"p":3,"s":"P","x":775,"y":-0.45},{"p":3,"s":"P","x":777.5,"y":0.25},{"p":3,"s":"P","x":780,"y":0.6},{"p":3,"s":"P","x":782.5,"y":-0.4},{"p":3,"s":"P","x":785,"y":-0.3},{"p":3,"s":"P","x":787.5,"y":0.45},{"p":3,"s":"P","x":790,"y":0.5},{"p":3,"s":"P","x":792.5,"y":-0.35},{"p":3,"s":"P","x":795,"y":-0.6},{"p":3,"s":"P","x":797.5,"y":0.5},{"p":3,"s":"P","x":800,"y":1.0},{"p":3,"s":"P","x":802.5,"y":-0.5},{"p":3,"s":"P","x":805,"y":-0.8},{"p":3,"s":"P","x":807.5,"y":0.7},{"p":3,"s":"P","x":810,"y":1.95},{"p":3,"s":"P","x":812.5,"y":-0.6},{"p":3,"s":"P","x":815,"y":-1.0},{"p":3,"s":"P","x":817.5,"y":0.8},{"p":3,"s":"P","x":820,"y":1.6},{"p":3,"s":"P","x":822.5,"y":-0.7},{"p":3,"s":"P","x":825,"y":-0.5},{"p":3,"s":"P","x":827.5,"y":0.5},{"p":3,"s":"P","x":830,"y":0.4},{"p":3,"s":"P","x":832.5,"y":-0.3},{"p":3,"s":"P","x":835,"y":-0.6},{"p":3,"s":"P","x":837.5,"y":0.35},{"p":3,"s":"P","x":840,"y":0.3},{"p":3,"s":"P","x":842.5,"y":-0.5},{"p":3,"s":"P","x":845,"y":-0.4},{"p":3,"s":"P","x":847.5,"y":0.3},{"p":3,"s":"P","x":850,"y":0.2},{"p":3,"s":"P","x":852.5,"y":-0.25},{"p":3,"s":"P","x":855,"y":-0.5},{"p":3,"s":"P","x":857.5,"y":0.4},{"p":3,"s":"P","x":860,"y":0.3},{"p":3,"s":"P","x":862.5,"y":-0.45},{"p":3,"s":"P","x":865,"y":-0.3},{"p":3,"s":"P","x":867.5,"y":0.2},{"p":3,"s":"P","x":870,"y":0.15},{"p":3,"s":"P","x":872.5,"y":-0.3},{"p":3,"s":"P","x":875,"y":-0.55},{"p":3,"s":"P","x":877.5,"y":0.35},{"p":3,"s":"P","x":880,"y":0.3},{"p":3,"s":"P","x":882.5,"y":-0.4},{"p":3,"s":"P","x":885,"y":-0.2},{"p":3,"s":"P","x":887.5,"y":0.3},{"p":3,"s":"P","x":890,"y":0.25},{"p":3,"s":"P","x":892.5,"y":-0.25},{"p":3,"s":"P","x":895,"y":-0.45},{"p":3,"s":"P","x":897.5,"y":0.4},{"p":3,"s":"P","x":900,"y":0.1},{"p":3,"s":"P","x":902.5,"y":-0.5},{"p":3,"s":"P","x":905,"y":-0.3},{"p":3,"s":"P","x":907.5,"y":0.25},{"p":3,"s":"P","x":910,"y":0.3},{"p":3,"s":"P","x":912.5,"y":-0.3},{"p":3,"s":"P","x":915,"y":-0.5},{"p":3,"s":"P","x":917.5,"y":0.35},{"p":3,"s":"P","x":920,"y":0.2},{"p":3,"s":"P","x":922.5,"y":-0.4},{"p":3,"s":"P","x":925,"y":-0.35},{"p":3,"s":"P","x":927.5,"y":0.3},{"p":3,"s":"P","x":930,"y":0.15},{"p":3,"s":"P","x":932.5,"y":-0.3},{"p":3,"s":"P","x":935,"y":-0.6},{"p":3,"s":"P","x":937.5,"y":0.25},{"p":3,"s":"P","x":940,"y":0.4},{"p":3,"s":"P","x":942.5,"y":-0.45},{"p":3,"s":"P","x":945,"y":-0.3},{"p":3,"s":"P","x":947.5,"y":0.4},{"p":3,"s":"P","x":950,"y":0.6},{"p":3,"s":"P","x":952.5,"y":-0.5},{"p":3,"s":"P","x":955,"y":-0.8},{"p":3,"s":"P","x":957.5,"y":0.6},{"p":3,"s":"P","x":960,"y":0.5},{"p":3,"s":"P","x":962.5,"y":-0.4},{"p":3,"s":"P","x":965,"y":-0.7},{"p":3,"s":"P","x":967.5,"y":0.5},{"p":3,"s":"P","x":970,"y":0.8},{"p":3,"s":"P","x":972.5,"y":-0.6},{"p":3,"s":"P","x":975,"y":-0.5},{"p":3,"s":"P","x":977.5,"y":0.7},{"p":3,"s":"P","x":980,"y":0.4},{"p":3,"s":"P","x":982.5,"y":-0.7},{"p":3,"s":"P","x":985,"y":-1.95},{"p":3,"s":"P","x":987.5,"y":0.4},{"p":3,"s":"P","x":990,"y":-1.9},{"p":3,"s":"P","x":992.5,"y":-0.5},{"p":3,"s":"P","x":995,"y":0.7},{"p":3,"s":"P","x":997.5,"y":0.6},{"p":3,"s":"P","x":1000,"y":-0.6},{"p":3,"s":"P","x":1002.5,"y":-0.7},{"p":3,"s":"P","x":1005,"y":0.9},{"p":3,"s":"P","x":1007.5,"y":0.5},{"p":3,"s":"P","x":1010,"y":-0.4},{"p":3,"s":"P","x":1012.5,"y":-0.6},{"p":3,"s":"P","x":1015,"y":0.6},{"p":3,"s":"P","x":1017.5,"y":0.8},{"p":3,"s":"P","x":1020,"y":-0.7},{"p":3,"s":"P","x":1022.5,"y":-0.4},{"p":3,"s":"P","x":1025,"y":0.5},{"p":3,"s":"P","x":1027.5,"y":0.6},{"p":3,"s":"P","x":1030,"y":-0.3},{"p":3,"s":"P","x":1032.5,"y":-0.7},{"p":3,"s":"P","x":1035,"y":0.8},{"p":3,"s":"P","x":1037.5,"y":0.5},{"p":3,"s":"P","x":1040,"y":-0.6},{"p":3,"s":"P","x":1042.5,"y":-0.5},{"p":3,"s":"P","x":1045,"y":0.4},{"p":3,"s":"P","x":1047.5,"y":0.7},{"p":3,"s":"P","x":1050,"y":-0.5},{"p":3,"s":"P","x":1052.5,"y":-0.6},{"p":3,"s":"P","x":1055,"y":0.7},{"p":3,"s":"P","x":1057.5,"y":0.4},{"p":3,"s":"P","x":1060,"y":-0.3},{"p":3,"s":"P","x":1062.5,"y":-0.7},{"p":3,"s":"P","x":1065,"y":0.9},{"p":3,"s":"P","x":1067.5,"y":0.6},{"p":3,"s":"P","x":1070,"y":-0.6},{"p":3,"s":"P","x":1072.5,"y":-0.5},{"p":3,"s":"P","x":1075,"y":0.5},{"p":3,"s":"P","x":1077.5,"y":0.8},{"p":3,"s":"P","x":1080,"y":-0.4},{"p":3,"s":"P","x":1082.5,"y":-0.7},{"p":3,"s":"P","x":1085,"y":1.0},{"p":3,"s":"P","x":1087.5,"y":0.6},{"p":3,"s":"P","x":1090,"y":-1.5},{"p":3,"s":"P","x":1092.5,"y":-0.6},{"p":3,"s":"P","x":1095,"y":-1.8},{"p":3,"s":"P","x":1097.5,"y":0.5},{"p":3,"s":"P","x":1100,"y":1.5},{"p":3,"s":"P","x":1102.5,"y":-0.6},{"p":3,"s":"P","x":1105,"y":1.8},{"p":3,"s":"P","x":1107.5,"y":0.7},{"p":3,"s":"P","x":1110,"y":-0.7},{"p":3,"s":"P","x":1112.5,"y":0.4},{"p":3,"s":"P","x":1115,"y":0.5},{"p":3,"s":"P","x":1117.5,"y":-0.5},{"p":3,"s":"P","x":1120,"y":-0.4},{"p":3,"s":"P","x":1122.5,"y":0.5},{"p":3,"s":"P","x":1125,"y":0.6},{"p":3,"s":"P","x":1127.5,"y":-0.4},{"p":3,"s":"P","x":1130,"y":-0.5},{"p":3,"s":"P","x":1132.5,"y":0.6},{"p":3,"s":"P","x":1135,"y":0.3},{"p":3,"s":"P","x":1137.5,"y":-0.4},{"p":3,"s":"P","x":1140,"y":-0.6},{"p":3,"s":"P","x":1142.5,"y":0.3},{"p":3,"s":"P","x":1145,"y":0.4},{"p":3,"s":"P","x":1147.5,"y":-0.5},{"p":3,"s":"P","x":1150,"y":-0.3},{"p":3,"s":"P","x":1152.5,"y":0.4},{"p":3,"s":"P","x":1155,"y":0.5},{"p":3,"s":"P","x":1157.5,"y":-0.3},{"p":3,"s":"P","x":1160,"y":-0.6},{"p":3,"s":"P","x":1162.5,"y":0.5},{"p":3,"s":"P","x":1165,"y":0.2},{"p":3,"s":"P","x":1167.5,"y":-0.4},{"p":3,"s":"P","x":1170,"y":-0.4},{"p":3,"s":"P","x":1172.5,"y":0.3},{"p":3,"s":"P","x":1175,"y":0.3},{"p":3,"s":"P","x":1177.5,"y":-0.45},{"p":3,"s":"P","x":1180,"y":-0.5},{"p":3,"s":"P","x":1182.5,"y":0.4},{"p":3,"s":"P","x":1185,"y":0.2},{"p":3,"s":"P","x":1187.5,"y":-0.35},{"p":3,"s":"P","x":1190,"y":-0.3},{"p":3,"s":"P","x":1192.5,"y":0.3},{"p":3,"s":"P","x":1195,"y":0.1},{"p":3,"s":"P","x":1197.5,"y":-0.4},{"p":3,"s":"P","x":1200,"y":-1.35},
{"p":3,"s":"G","x":500,"y":-1.4},{"p":3,"s":"G","x":502.5,"y":0.5},{"p":3,"s":"G","x":505,"y":2.3},{"p":3,"s":"G","x":507.5,"y":-0.8},{"p":3,"s":"G","x":510,"y":-1.2},{"p":3,"s":"G","x":512.5,"y":1.0},{"p":3,"s":"G","x":515,"y":1.5},{"p":3,"s":"G","x":517.5,"y":-1.1},{"p":3,"s":"G","x":520,"y":-0.9},{"p":3,"s":"G","x":522.5,"y":0.6},{"p":3,"s":"G","x":525,"y":1.8},{"p":3,"s":"G","x":527.5,"y":-0.5},{"p":3,"s":"G","x":530,"y":-1.4},{"p":3,"s":"G","x":532.5,"y":0.9},{"p":3,"s":"G","x":535,"y":1.95},{"p":3,"s":"G","x":537.5,"y":-1.0},{"p":3,"s":"G","x":540,"y":-1.6},{"p":3,"s":"G","x":542.5,"y":0.7},{"p":3,"s":"G","x":545,"y":1.4},{"p":3,"s":"G","x":547.5,"y":-0.9},{"p":3,"s":"G","x":550,"y":-1.2},{"p":3,"s":"G","x":552.5,"y":0.5},{"p":3,"s":"G","x":555,"y":1.6},{"p":3,"s":"G","x":557.5,"y":-0.6},{"p":3,"s":"G","x":560,"y":-1.7},{"p":3,"s":"G","x":562.5,"y":1.1},{"p":3,"s":"G","x":565,"y":1.0},{"p":3,"s":"G","x":567.5,"y":-0.8},{"p":3,"s":"G","x":570,"y":-1.5},{"p":3,"s":"G","x":572.5,"y":0.6},{"p":3,"s":"G","x":575,"y":1.55},{"p":3,"s":"G","x":577.5,"y":-0.7},{"p":3,"s":"G","x":580,"y":-1.8},{"p":3,"s":"G","x":582.5,"y":1.0},{"p":3,"s":"G","x":585,"y":1.2},{"p":3,"s":"G","x":587.5,"y":-1.2},{"p":3,"s":"G","x":590,"y":-1.3},{"p":3,"s":"G","x":592.5,"y":0.4},{"p":3,"s":"G","x":595,"y":1.2},{"p":3,"s":"G","x":597.5,"y":-0.5},{"p":3,"s":"G","x":600,"y":-1.95},{"p":3,"s":"G","x":602.5,"y":1.0},{"p":3,"s":"G","x":605,"y":0.9},{"p":3,"s":"G","x":607.5,"y":-1.1},{"p":3,"s":"G","x":610,"y":-1.5},{"p":3,"s":"G","x":612.5,"y":0.7},{"p":3,"s":"G","x":615,"y":1.3},{"p":3,"s":"G","x":617.5,"y":-0.9},{"p":3,"s":"G","x":620,"y":-0.8},{"p":3,"s":"G","x":622.5,"y":0.6},{"p":3,"s":"G","x":625,"y":1.1},{"p":3,"s":"G","x":627.5,"y":-0.6},{"p":3,"s":"G","x":630,"y":-1.9},{"p":3,"s":"G","x":632.5,"y":1.0},{"p":3,"s":"G","x":635,"y":0.6},{"p":3,"s":"G","x":637.5,"y":-1.2},{"p":3,"s":"G","x":640,"y":1.3},{"p":3,"s":"G","x":642.5,"y":0.4},{"p":3,"s":"G","x":645,"y":-1.4},{"p":3,"s":"G","x":647.5,"y":0.8},{"p":3,"s":"G","x":650,"y":1.0},{"p":3,"s":"G","x":652.5,"y":-0.9},{"p":3,"s":"G","x":655,"y":-1.6},{"p":3,"s":"G","x":657.5,"y":0.6},{"p":3,"s":"G","x":660,"y":1.2},{"p":3,"s":"G","x":662.5,"y":-0.7},{"p":3,"s":"G","x":665,"y":-1.1},{"p":3,"s":"G","x":667.5,"y":1.0},{"p":3,"s":"G","x":670,"y":0.8},{"p":3,"s":"G","x":672.5,"y":-1.2},{"p":3,"s":"G","x":675,"y":-1.5},{"p":3,"s":"G","x":677.5,"y":0.5},{"p":3,"s":"G","x":680,"y":1.1},{"p":3,"s":"G","x":682.5,"y":-0.8},{"p":3,"s":"G","x":685,"y":-1.2},{"p":3,"s":"G","x":687.5,"y":0.9},{"p":3,"s":"G","x":690,"y":1.5},{"p":3,"s":"G","x":692.5,"y":-1.1},{"p":3,"s":"G","x":695,"y":2.2},{"p":3,"s":"G","x":697.5,"y":0.7},{"p":3,"s":"G","x":700,"y":-1.5},{"p":3,"s":"G","x":702.5,"y":0.9},{"p":3,"s":"G","x":705,"y":1.3},{"p":3,"s":"G","x":707.5,"y":-1.0},{"p":3,"s":"G","x":710,"y":-1.0},{"p":3,"s":"G","x":712.5,"y":0.6},{"p":3,"s":"G","x":715,"y":1.1},{"p":3,"s":"G","x":717.5,"y":-0.9},{"p":3,"s":"G","x":720,"y":-1.8},{"p":3,"s":"G","x":722.5,"y":0.8},{"p":3,"s":"G","x":725,"y":1.2},{"p":3,"s":"G","x":727.5,"y":-0.7},{"p":3,"s":"G","x":730,"y":-1.3},{"p":3,"s":"G","x":732.5,"y":1.0},{"p":3,"s":"G","x":735,"y":0.9},{"p":3,"s":"G","x":737.5,"y":-1.0},{"p":3,"s":"G","x":740,"y":-1.6},{"p":3,"s":"G","x":742.5,"y":0.5},{"p":3,"s":"G","x":745,"y":1.4},{"p":3,"s":"G","x":747.5,"y":-0.8},{"p":3,"s":"G","x":750,"y":-1.1},{"p":3,"s":"G","x":752.5,"y":0.9},{"p":3,"s":"G","x":755,"y":1.2},{"p":3,"s":"G","x":757.5,"y":-1.2},{"p":3,"s":"G","x":760,"y":-1.4},{"p":3,"s":"G","x":762.5,"y":0.7},{"p":3,"s":"G","x":765,"y":1.5},{"p":3,"s":"G","x":767.5,"y":-0.8},{"p":3,"s":"G","x":770,"y":-0.9},{"p":3,"s":"G","x":772.5,"y":1.1},{"p":3,"s":"G","x":775,"y":1.3},{"p":3,"s":"G","x":777.5,"y":-0.9},{"p":3,"s":"G","x":780,"y":-1.5},{"p":3,"s":"G","x":782.5,"y":0.6},{"p":3,"s":"G","x":785,"y":1.0},{"p":3,"s":"G","x":787.5,"y":-1.0},{"p":3,"s":"G","x":790,"y":-1.2},{"p":3,"s":"G","x":792.5,"y":0.8},{"p":3,"s":"G","x":795,"y":1.4},{"p":3,"s":"G","x":797.5,"y":-0.6},{"p":3,"s":"G","x":800,"y":2.1},{"p":3,"s":"G","x":802.5,"y":0.7},{"p":3,"s":"G","x":805,"y":-1.3},{"p":3,"s":"G","x":807.5,"y":-0.9},{"p":3,"s":"G","x":810,"y":1.7},{"p":3,"s":"G","x":812.5,"y":0.8},{"p":3,"s":"G","x":815,"y":-1.6},{"p":3,"s":"G","x":817.5,"y":-0.7},{"p":3,"s":"G","x":820,"y":1.5},{"p":3,"s":"G","x":822.5,"y":1.0},{"p":3,"s":"G","x":825,"y":-1.0},{"p":3,"s":"G","x":827.5,"y":-1.1},{"p":3,"s":"G","x":830,"y":1.6},{"p":3,"s":"G","x":832.5,"y":0.6},{"p":3,"s":"G","x":835,"y":-1.5},{"p":3,"s":"G","x":837.5,"y":-0.8},{"p":3,"s":"G","x":840,"y":1.2},{"p":3,"s":"G","x":842.5,"y":0.9},{"p":3,"s":"G","x":845,"y":-1.3},{"p":3,"s":"G","x":847.5,"y":-1.0},{"p":3,"s":"G","x":850,"y":1.0},{"p":3,"s":"G","x":852.5,"y":0.7},{"p":3,"s":"G","x":855,"y":-1.7},{"p":3,"s":"G","x":857.5,"y":-0.6},{"p":3,"s":"G","x":860,"y":1.3},{"p":3,"s":"G","x":862.5,"y":0.8},{"p":3,"s":"G","x":865,"y":-2.3},{"p":3,"s":"G","x":867.5,"y":-1.0},{"p":3,"s":"G","x":870,"y":1.4},{"p":3,"s":"G","x":872.5,"y":0.6},{"p":3,"s":"G","x":875,"y":-2.35},{"p":3,"s":"G","x":877.5,"y":-0.9},{"p":3,"s":"G","x":880,"y":1.1},{"p":3,"s":"G","x":882.5,"y":0.7},{"p":3,"s":"G","x":885,"y":-1.2},{"p":3,"s":"G","x":887.5,"y":-0.8},{"p":3,"s":"G","x":890,"y":2.1},{"p":3,"s":"G","x":892.5,"y":1.0},{"p":3,"s":"G","x":895,"y":-1.5},{"p":3,"s":"G","x":897.5,"y":-1.1},{"p":3,"s":"G","x":900,"y":1.5},{"p":3,"s":"G","x":902.5,"y":0.8},{"p":3,"s":"G","x":905,"y":-1.0},{"p":3,"s":"G","x":907.5,"y":-0.9},{"p":3,"s":"G","x":910,"y":1.2},{"p":3,"s":"G","x":912.5,"y":0.6},{"p":3,"s":"G","x":915,"y":-1.7},{"p":3,"s":"G","x":917.5,"y":-0.7},{"p":3,"s":"G","x":920,"y":1.5},{"p":3,"s":"G","x":922.5,"y":0.9},{"p":3,"s":"G","x":925,"y":-1.2},{"p":3,"s":"G","x":927.5,"y":-1.0},{"p":3,"s":"G","x":930,"y":0.9},{"p":3,"s":"G","x":932.5,"y":0.7},{"p":3,"s":"G","x":935,"y":-1.6},{"p":3,"s":"G","x":937.5,"y":-0.6},{"p":3,"s":"G","x":940,"y":1.3},{"p":3,"s":"G","x":942.5,"y":0.8},{"p":3,"s":"G","x":945,"y":-1.1},{"p":3,"s":"G","x":947.5,"y":-1.0},{"p":3,"s":"G","x":950,"y":1.0},{"p":3,"s":"G","x":952.5,"y":0.6},{"p":3,"s":"G","x":955,"y":-1.4},{"p":3,"s":"G","x":957.5,"y":-0.8},{"p":3,"s":"G","x":960,"y":0.8},{"p":3,"s":"G","x":962.5,"y":0.9},{"p":3,"s":"G","x":965,"y":-1.3},{"p":3,"s":"G","x":967.5,"y":-0.7},{"p":3,"s":"G","x":970,"y":1.2},{"p":3,"s":"G","x":972.5,"y":0.5},{"p":3,"s":"G","x":975,"y":-1.7},{"p":3,"s":"G","x":977.5,"y":-0.9},{"p":3,"s":"G","x":980,"y":2.3},{"p":3,"s":"G","x":982.5,"y":1.0},{"p":3,"s":"G","x":985,"y":-1.5},{"p":3,"s":"G","x":987.5,"y":-1.1},{"p":3,"s":"G","x":990,"y":1.0},{"p":3,"s":"G","x":992.5,"y":0.6},{"p":3,"s":"G","x":995,"y":-1.2},{"p":3,"s":"G","x":997.5,"y":-0.7},{"p":3,"s":"G","x":1000,"y":1.3},{"p":3,"s":"G","x":1002.5,"y":0.9},{"p":3,"s":"G","x":1005,"y":-1.5},{"p":3,"s":"G","x":1007.5,"y":-0.8},{"p":3,"s":"G","x":1010,"y":1.2},{"p":3,"s":"G","x":1012.5,"y":0.7},{"p":3,"s":"G","x":1015,"y":-0.8},{"p":3,"s":"G","x":1017.5,"y":-1.0},{"p":3,"s":"G","x":1020,"y":1.2},{"p":3,"s":"G","x":1022.5,"y":0.8},{"p":3,"s":"G","x":1025,"y":-1.4},{"p":3,"s":"G","x":1027.5,"y":-0.6},{"p":3,"s":"G","x":1030,"y":1.5},{"p":3,"s":"G","x":1032.5,"y":0.9},{"p":3,"s":"G","x":1035,"y":-1.2},{"p":3,"s":"G","x":1037.5,"y":-1.0},{"p":3,"s":"G","x":1040,"y":1.1},{"p":3,"s":"G","x":1042.5,"y":0.7},{"p":3,"s":"G","x":1045,"y":-1.6},{"p":3,"s":"G","x":1047.5,"y":-0.8},{"p":3,"s":"G","x":1050,"y":1.4},{"p":3,"s":"G","x":1052.5,"y":1.0},{"p":3,"s":"G","x":1055,"y":-1.0},{"p":3,"s":"G","x":1057.5,"y":-0.9},{"p":3,"s":"G","x":1060,"y":1.2},{"p":3,"s":"G","x":1062.5,"y":0.6},{"p":3,"s":"G","x":1065,"y":-1.5},{"p":3,"s":"G","x":1067.5,"y":-0.7},{"p":3,"s":"G","x":1070,"y":1.75},{"p":3,"s":"G","x":1072.5,"y":0.9},{"p":3,"s":"G","x":1075,"y":-1.2},{"p":3,"s":"G","x":1077.5,"y":-1.0},{"p":3,"s":"G","x":1080,"y":1.6},{"p":3,"s":"G","x":1082.5,"y":0.7},{"p":3,"s":"G","x":1085,"y":-1.4},{"p":3,"s":"G","x":1087.5,"y":-0.6},{"p":3,"s":"G","x":1090,"y":1.5},{"p":3,"s":"G","x":1092.5,"y":1.0},{"p":3,"s":"G","x":1095,"y":-1.0},{"p":3,"s":"G","x":1097.5,"y":-1.1},{"p":3,"s":"G","x":1100,"y":1.3},{"p":3,"s":"G","x":1102.5,"y":0.8},{"p":3,"s":"G","x":1105,"y":-1.6},{"p":3,"s":"G","x":1107.5,"y":-0.9},{"p":3,"s":"G","x":1110,"y":1.6},{"p":3,"s":"G","x":1112.5,"y":0.6},{"p":3,"s":"G","x":1115,"y":-1.95},{"p":3,"s":"G","x":1117.5,"y":-0.8},{"p":3,"s":"G","x":1120,"y":1.2},{"p":3,"s":"G","x":1122.5,"y":0.9},{"p":3,"s":"G","x":1125,"y":-1.5},{"p":3,"s":"G","x":1127.5,"y":-1.0},{"p":3,"s":"G","x":1130,"y":1.4},{"p":3,"s":"G","x":1132.5,"y":0.7},{"p":3,"s":"G","x":1135,"y":-1.7},{"p":3,"s":"G","x":1137.5,"y":-0.6},{"p":3,"s":"G","x":1140,"y":1.3},{"p":3,"s":"G","x":1142.5,"y":0.9},{"p":3,"s":"G","x":1145,"y":-1.2},{"p":3,"s":"G","x":1147.5,"y":-1.0},{"p":3,"s":"G","x":1150,"y":1.5},{"p":3,"s":"G","x":1152.5,"y":0.6},{"p":3,"s":"G","x":1155,"y":-1.4},{"p":3,"s":"G","x":1157.5,"y":-0.7},{"p":3,"s":"G","x":1160,"y":1.4},{"p":3,"s":"G","x":1162.5,"y":0.8},{"p":3,"s":"G","x":1165,"y":-1.0},{"p":3,"s":"G","x":1167.5,"y":-0.9},{"p":3,"s":"G","x":1170,"y":1.2},{"p":3,"s":"G","x":1172.5,"y":0.7},{"p":3,"s":"G","x":1175,"y":-1.5},{"p":3,"s":"G","x":1177.5,"y":-0.6},{"p":3,"s":"G","x":1180,"y":1.3},{"p":3,"s":"G","x":1182.5,"y":0.9},{"p":3,"s":"G","x":1185,"y":-1.2},{"p":3,"s":"G","x":1187.5,"y":-0.8},{"p":3,"s":"G","x":1190,"y":1.0},{"p":3,"s":"G","x":1192.5,"y":0.5},{"p":3,"s":"G","x":1195,"y":-0.8},{"p":3,"s":"G","x":1197.5,"y":-0.6},{"p":3,"s":"G","x":1200,"y":0.5},
{"p":4,"s":"H","x":0,"y":0.135},{"p":4,"s":"H","x":7,"y":0.155},{"p":4,"s":"H","x":13,"y":0.18},{"p":4,"s":"H","x":19,"y":0.21},{"p":4,"s":"H","x":27,"y":0.2},{"p":4,"s":"H","x":33,"y":0.165},{"p":4,"s":"H","x":39,"y":0.22},{"p":4,"s":"H","x":48,"y":0.27},{"p":4,"s":"H","x":55,"y":0.34},{"p":4,"s":"H","x":63,"y":0.2},{"p":4,"s":"H","x":71,"y":0.13},{"p":4,"s":"H","x":81,"y":0.25},{"p":4,"s":"H","x":87,"y":0.27},{"p":4,"s":"H","x":99,"y":0.19},{"p":4,"s":"H","x":107,"y":0.165},{"p":4,"s":"H","x":117,"y":0.1},{"p":4,"s":"H","x":123,"y":0.07},{"p":4,"s":"H","x":135,"y":0.08},{"p":4,"s":"H","x":143,"y":0.115},{"p":4,"s":"H","x":152,"y":0.31},{"p":4,"s":"H","x":160,"y":0.5},{"p":4,"s":"H","x":163,"y":0.575},{"p":4,"s":"H","x":170,"y":0.49},{"p":4,"s":"H","x":179,"y":0.3},{"p":4,"s":"H","x":186,"y":0.38},{"p":4,"s":"H","x":194,"y":0.33},{"p":4,"s":"H","x":202,"y":0.22},{"p":4,"s":"H","x":212,"y":0.25},{"p":4,"s":"H","x":221,"y":0.21},{"p":4,"s":"H","x":230,"y":0.18},{"p":4,"s":"H","x":242,"y":0.21},{"p":4,"s":"H","x":248,"y":0.23},{"p":4,"s":"H","x":254,"y":0.49},{"p":4,"s":"H","x":260,"y":0.65},{"p":4,"s":"H","x":268,"y":0.73},{"p":4,"s":"H","x":274,"y":0.36},{"p":4,"s":"H","x":283,"y":0.165},{"p":4,"s":"H","x":293,"y":0.18},{"p":4,"s":"H","x":305,"y":0.25},{"p":4,"s":"H","x":314,"y":0.175},{"p":4,"s":"H","x":323,"y":0.21},{"p":4,"s":"H","x":333,"y":0.36},{"p":4,"s":"H","x":343,"y":0.19},{"p":4,"s":"H","x":355,"y":0.285},{"p":4,"s":"H","x":364,"y":0.28},{"p":4,"s":"H","x":374,"y":0.21},{"p":4,"s":"H","x":385,"y":0.165},{"p":4,"s":"H","x":396,"y":0.08},{"p":4,"s":"H","x":408,"y":0.068},{"p":4,"s":"H","x":417,"y":0.1},{"p":4,"s":"H","x":426,"y":0.34},{"p":4,"s":"H","x":436,"y":0.5},{"p":4,"s":"H","x":442,"y":0.57},{"p":4,"s":"H","x":450,"y":0.47},{"p":4,"s":"H","x":460,"y":0.35},{"p":4,"s":"H","x":468,"y":0.29},{"p":4,"s":"H","x":476,"y":0.28},{"p":4,"s":"H","x":486,"y":0.23},{"p":4,"s":"H","x":498,"y":0.17},
{"p":4,"s":"P","x":501,"y":0.005},{"p":4,"s":"P","x":505,"y":0.02},{"p":4,"s":"P","x":510,"y":0.015},{"p":4,"s":"P","x":518,"y":0.025},{"p":4,"s":"P","x":525,"y":0.012},{"p":4,"s":"P","x":533,"y":0.02},{"p":4,"s":"P","x":540,"y":0.015},{"p":4,"s":"P","x":548,"y":0.022},{"p":4,"s":"P","x":557,"y":0.018},{"p":4,"s":"P","x":565,"y":0.025},{"p":4,"s":"P","x":575,"y":0.03},{"p":4,"s":"P","x":583,"y":0.022},{"p":4,"s":"P","x":593,"y":0.025},{"p":4,"s":"P","x":600,"y":0.04},{"p":4,"s":"P","x":605,"y":0.05},{"p":4,"s":"P","x":617,"y":0.07},{"p":4,"s":"P","x":629,"y":0.08},{"p":4,"s":"P","x":636,"y":0.07},{"p":4,"s":"P","x":643,"y":0.1},{"p":4,"s":"P","x":652,"y":0.105},{"p":4,"s":"P","x":661,"y":0.095},{"p":4,"s":"P","x":670,"y":0.085},{"p":4,"s":"P","x":682,"y":0.06},{"p":4,"s":"P","x":692,"y":0.04},{"p":4,"s":"P","x":700,"y":0.02},{"p":4,"s":"P","x":706,"y":0.015},{"p":4,"s":"P","x":712,"y":0.025},{"p":4,"s":"P","x":718,"y":0.04},{"p":4,"s":"P","x":727,"y":0.08},{"p":4,"s":"P","x":736,"y":0.11},{"p":4,"s":"P","x":748,"y":0.125},{"p":4,"s":"P","x":760,"y":0.12},{"p":4,"s":"P","x":768,"y":0.105},{"p":4,"s":"P","x":777,"y":0.09},{"p":4,"s":"P","x":786,"y":0.065},{"p":4,"s":"P","x":795,"y":0.04},{"p":4,"s":"P","x":807,"y":0.015},{"p":4,"s":"P","x":818,"y":0.018},{"p":4,"s":"P","x":831,"y":0.02},{"p":4,"s":"P","x":842,"y":0.015},{"p":4,"s":"P","x":855,"y":0.03},{"p":4,"s":"P","x":863,"y":0.025},{"p":4,"s":"P","x":872,"y":0.05},{"p":4,"s":"P","x":885,"y":0.075},{"p":4,"s":"P","x":896,"y":0.08},{"p":4,"s":"P","x":908,"y":0.06},{"p":4,"s":"P","x":920,"y":0.08},{"p":4,"s":"P","x":932,"y":0.1},{"p":4,"s":"P","x":944,"y":0.07},{"p":4,"s":"P","x":950,"y":0.05},{"p":4,"s":"P","x":956,"y":0.04},{"p":4,"s":"P","x":965,"y":0.03},{"p":4,"s":"P","x":974,"y":0.015},{"p":4,"s":"P","x":982,"y":0.02},{"p":4,"s":"P","x":992,"y":0.03},{"p":4,"s":"P","x":1000,"y":0.035},{"p":4,"s":"P","x":1010,"y":0.05},{"p":4,"s":"P","x":1020,"y":0.08},{"p":4,"s":"P","x":1027,"y":0.1},{"p":4,"s":"P","x":1036,"y":0.14},{"p":4,"s":"P","x":1045,"y":0.165},{"p":4,"s":"P","x":1054,"y":0.14},{"p":4,"s":"P","x":1063,"y":0.1},{"p":4,"s":"P","x":1072,"y":0.065},{"p":4,"s":"P","x":1081,"y":0.04},{"p":4,"s":"P","x":1093,"y":0.02},{"p":4,"s":"P","x":1102,"y":0.025},{"p":4,"s":"P","x":1111,"y":0.025},{"p":4,"s":"P","x":1120,"y":0.035},{"p":4,"s":"P","x":1129,"y":0.045},{"p":4,"s":"P","x":1138,"y":0.055},{"p":4,"s":"P","x":1146,"y":0.06},{"p":4,"s":"P","x":1155,"y":0.062},{"p":4,"s":"P","x":1164,"y":0.065},{"p":4,"s":"P","x":1173,"y":0.07},{"p":4,"s":"P","x":1182,"y":0.075},{"p":4,"s":"P","x":1194,"y":0.095},{"p":4,"s":"P","x":1200,"y":0.055},
{"p":4,"s":"G","x":504,"y":0.29},{"p":4,"s":"G","x":510,"y":0.27},{"p":4,"s":"G","x":515,"y":0.32},{"p":4,"s":"G","x":524,"y":0.22},{"p":4,"s":"G","x":533,"y":0.2},{"p":4,"s":"G","x":539,"y":0.28},{"p":4,"s":"G","x":548,"y":0.22},{"p":4,"s":"G","x":557,"y":0.15},{"p":4,"s":"G","x":563,"y":0.25},{"p":4,"s":"G","x":569,"y":0.2},{"p":4,"s":"G","x":575,"y":0.16},{"p":4,"s":"G","x":581,"y":0.24},{"p":4,"s":"G","x":587,"y":0.43},{"p":4,"s":"G","x":595,"y":0.3},{"p":4,"s":"G","x":600,"y":0.41},{"p":4,"s":"G","x":607,"y":0.2},{"p":4,"s":"G","x":614,"y":0.36},{"p":4,"s":"G","x":623,"y":0.12},{"p":4,"s":"G","x":629,"y":0.18},{"p":4,"s":"G","x":635,"y":0.2},{"p":4,"s":"G","x":640,"y":0.34},{"p":4,"s":"G","x":645,"y":0.2},{"p":4,"s":"G","x":650,"y":0.12},{"p":4,"s":"G","x":658,"y":0.15},{"p":4,"s":"G","x":664,"y":0.1},{"p":4,"s":"G","x":670,"y":0.09},{"p":4,"s":"G","x":676,"y":0.14},{"p":4,"s":"G","x":682,"y":0.13},{"p":4,"s":"G","x":688,"y":0.1},{"p":4,"s":"G","x":694,"y":0.08},{"p":4,"s":"G","x":700,"y":0.06},{"p":4,"s":"G","x":706,"y":0.05},{"p":4,"s":"G","x":714,"y":0.08},{"p":4,"s":"G","x":720,"y":0.1},{"p":4,"s":"G","x":724,"y":0.2},{"p":4,"s":"G","x":730,"y":0.07},{"p":4,"s":"G","x":736,"y":0.27},{"p":4,"s":"G","x":742,"y":0.1},{"p":4,"s":"G","x":748,"y":0.27},{"p":4,"s":"G","x":755,"y":0.08},{"p":4,"s":"G","x":762,"y":0.2},{"p":4,"s":"G","x":768,"y":0.28},{"p":4,"s":"G","x":772,"y":0.15},{"p":4,"s":"G","x":777,"y":0.13},{"p":4,"s":"G","x":783,"y":0.22},{"p":4,"s":"G","x":789,"y":0.18},{"p":4,"s":"G","x":795,"y":0.12},{"p":4,"s":"G","x":801,"y":0.12},{"p":4,"s":"G","x":810,"y":0.08},{"p":4,"s":"G","x":815,"y":0.12},{"p":4,"s":"G","x":819,"y":0.17},{"p":4,"s":"G","x":825,"y":0.21},{"p":4,"s":"G","x":831,"y":0.12},{"p":4,"s":"G","x":837,"y":0.15},{"p":4,"s":"G","x":843,"y":0.25},{"p":4,"s":"G","x":849,"y":0.16},{"p":4,"s":"G","x":855,"y":0.13},{"p":4,"s":"G","x":861,"y":0.17},{"p":4,"s":"G","x":867,"y":0.2},{"p":4,"s":"G","x":873,"y":0.15},{"p":4,"s":"G","x":879,"y":0.25},{"p":4,"s":"G","x":888,"y":0.36},{"p":4,"s":"G","x":896,"y":0.2},{"p":4,"s":"G","x":902,"y":0.22},{"p":4,"s":"G","x":908,"y":0.25},{"p":4,"s":"G","x":914,"y":0.16},{"p":4,"s":"G","x":920,"y":0.17},{"p":4,"s":"G","x":926,"y":0.23},{"p":4,"s":"G","x":932,"y":0.21},{"p":4,"s":"G","x":938,"y":0.14},{"p":4,"s":"G","x":944,"y":0.16},{"p":4,"s":"G","x":952,"y":0.1},{"p":4,"s":"G","x":957,"y":0.12},{"p":4,"s":"G","x":962,"y":0.07},{"p":4,"s":"G","x":968,"y":0.09},{"p":4,"s":"G","x":974,"y":0.05},{"p":4,"s":"G","x":980,"y":0.06},{"p":4,"s":"G","x":986,"y":0.08},{"p":4,"s":"G","x":992,"y":0.05},{"p":4,"s":"G","x":998,"y":0.06},{"p":4,"s":"G","x":1004,"y":0.09},{"p":4,"s":"G","x":1010,"y":0.1},{"p":4,"s":"G","x":1016,"y":0.07},{"p":4,"s":"G","x":1021,"y":0.12},{"p":4,"s":"G","x":1027,"y":0.1},{"p":4,"s":"G","x":1033,"y":0.2},{"p":4,"s":"G","x":1038,"y":0.15},{"p":4,"s":"G","x":1043,"y":0.37},{"p":4,"s":"G","x":1051,"y":0.2},{"p":4,"s":"G","x":1056,"y":0.24},{"p":4,"s":"G","x":1060,"y":0.15},{"p":4,"s":"G","x":1065,"y":0.2},{"p":4,"s":"G","x":1069,"y":0.18},{"p":4,"s":"G","x":1075,"y":0.22},{"p":4,"s":"G","x":1081,"y":0.2},{"p":4,"s":"G","x":1087,"y":0.17},{"p":4,"s":"G","x":1093,"y":0.22},{"p":4,"s":"G","x":1099,"y":0.19},{"p":4,"s":"G","x":1105,"y":0.2},{"p":4,"s":"G","x":1110,"y":0.23},{"p":4,"s":"G","x":1114,"y":0.27},{"p":4,"s":"G","x":1118,"y":0.19},{"p":4,"s":"G","x":1123,"y":0.15},{"p":4,"s":"G","x":1129,"y":0.2},{"p":4,"s":"G","x":1135,"y":0.21},{"p":4,"s":"G","x":1139,"y":0.16},{"p":4,"s":"G","x":1143,"y":0.13},{"p":4,"s":"G","x":1148,"y":0.2},{"p":4,"s":"G","x":1152,"y":0.24},{"p":4,"s":"G","x":1157,"y":0.17},{"p":4,"s":"G","x":1162,"y":0.18},{"p":4,"s":"G","x":1166,"y":0.23},{"p":4,"s":"G","x":1170,"y":0.28},{"p":4,"s":"G","x":1176,"y":0.22},{"p":4,"s":"G","x":1182,"y":0.2},{"p":4,"s":"G","x":1186,"y":0.27},{"p":4,"s":"G","x":1190,"y":0.25},{"p":4,"s":"G","x":1195,"y":0.2},{"p":4,"s":"G","x":1200,"y":0.19}
]},
"hconcat": [
{
  "width": 362, "height": 274,
  "data": {"name": "d"},
  "transform": [{"filter": "datum.p === 1"}],
  "encoding": {
    "x": {"field": "x", "type": "quantitative", "scale": {"domain": [-60, 1260], "nice": false, "zero": false}, "axis": {"values": [0, 200, 400, 600, 800, 1000, 1200]}},
    "y": {"field": "y", "type": "quantitative", "scale": {"domain": [-2.07, 2.13], "nice": false, "zero": false}, "axis": {"values": [-2, -1.5, -1, -0.5, 0, 0.5, 1, 1.5, 2], "format": ".1f", "minExtent": 39, "maxExtent": 39}}
  },
  "layer": [
    {"transform": [{"filter": "datum.s !== 'G'"}], "mark": {"type": "line", "strokeWidth": 1.8, "opacity": 0.9}, "encoding": {"color": {"datum": "Prediction", "type": "nominal", "scale": {"domain": ["Prediction", "GroundTruth"], "range": ["#ff0000", "#6e6e6e"]}, "legend": {"orient": "top-right", "title": null}}}},
    {"transform": [{"filter": "datum.s !== 'P'"}], "mark": {"type": "line", "strokeWidth": 1.8, "opacity": 0.8}, "encoding": {"color": {"datum": "GroundTruth", "type": "nominal"}}}
  ]
},
{
  "width": 362, "height": 274,
  "data": {"name": "d"},
  "transform": [{"filter": "datum.p === 2"}],
  "encoding": {
    "x": {"field": "x", "type": "quantitative", "scale": {"domain": [-60, 1260], "nice": false, "zero": false}, "axis": {"values": [0, 200, 400, 600, 800, 1000, 1200]}},
    "y": {"field": "y", "type": "quantitative", "scale": {"domain": [-1.755, 1.66], "nice": false, "zero": false}, "axis": {"values": [-1.5, -1, -0.5, 0, 0.5, 1, 1.5], "format": ".1f", "minExtent": 54, "maxExtent": 54}}
  },
  "layer": [
    {"transform": [{"filter": "datum.s !== 'G'"}], "mark": {"type": "line", "strokeWidth": 1.8, "opacity": 0.9}, "encoding": {"color": {"datum": "Prediction", "type": "nominal", "scale": {"domain": ["Prediction", "GroundTruth"], "range": ["#ff0000", "#6e6e6e"]}, "legend": {"orient": "top-left", "title": null}}}},
    {"transform": [{"filter": "datum.s !== 'P'"}], "mark": {"type": "line", "strokeWidth": 1.8, "opacity": 0.8}, "encoding": {"color": {"datum": "GroundTruth", "type": "nominal"}}}
  ]
},
{
  "width": 371, "height": 277,
  "data": {"name": "d"},
  "transform": [{"filter": "datum.p === 3"}],
  "encoding": {
    "x": {"field": "x", "type": "quantitative", "scale": {"domain": [-60, 1260], "nice": false, "zero": false}, "axis": {"values": [0, 200, 400, 600, 800, 1000, 1200]}},
    "y": {"field": "y", "type": "quantitative", "scale": {"domain": [-4.12, 2.87], "nice": false, "zero": false}, "axis": {"values": [-4, -3, -2, -1, 0, 1, 2], "format": "d", "minExtent": 46, "maxExtent": 46}}
  },
  "layer": [
    {"transform": [{"filter": "datum.s !== 'G'"}], "mark": {"type": "line", "strokeWidth": 1.6, "opacity": 0.9}, "encoding": {"color": {"datum": "Prediction", "type": "nominal", "scale": {"domain": ["Prediction", "GroundTruth"], "range": ["#ff0000", "#6e6e6e"]}, "legend": {"orient": "bottom-right", "title": null}}}},
    {"transform": [{"filter": "datum.s !== 'P'"}], "mark": {"type": "line", "strokeWidth": 1.6, "opacity": 0.8}, "encoding": {"color": {"datum": "GroundTruth", "type": "nominal"}}}
  ]
},
{
  "width": 370, "height": 277,
  "data": {"name": "d"},
  "transform": [{"filter": "datum.p === 4"}],
  "encoding": {
    "x": {"field": "x", "type": "quantitative", "scale": {"domain": [-60, 1260], "nice": false, "zero": false}, "axis": {"values": [0, 200, 400, 600, 800, 1000, 1200]}},
    "y": {"field": "y", "type": "quantitative", "scale": {"domain": [-0.032, 0.772], "nice": false, "zero": false}, "axis": {"values": [0, 0.1, 0.2, 0.3, 0.4, 0.5, 0.6, 0.7], "format": ".1f", "minExtent": 47, "maxExtent": 47}}
  },
  "layer": [
    {"transform": [{"filter": "datum.s !== 'G'"}], "mark": {"type": "line", "strokeWidth": 1.8, "opacity": 0.9}, "encoding": {"color": {"datum": "Prediction", "type": "nominal", "scale": {"domain": ["Prediction", "GroundTruth"], "range": ["#ff0000", "#6e6e6e"]}, "legend": {"orient": "top-right", "title": null}}}},
    {"transform": [{"filter": "datum.s !== 'P'"}], "mark": {"type": "line", "strokeWidth": 1.8, "opacity": 0.8}, "encoding": {"color": {"datum": "GroundTruth", "type": "nominal"}}}
  ]
}
]
}
